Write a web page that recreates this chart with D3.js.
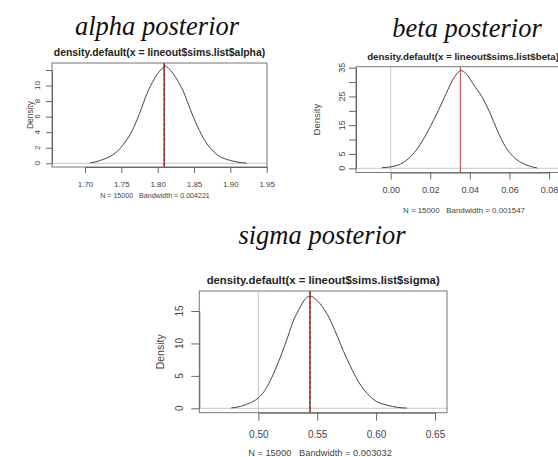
<!DOCTYPE html>
<html><head><meta charset="utf-8">
<script src="https://cdn.jsdelivr.net/npm/d3@7"></script>
<style>html,body{margin:0;padding:0;background:#fff;overflow:hidden}</style>
</head><body>
<svg id="c" width="558" height="457"></svg>
<script>
// ---------- data ----------
const panelNames = ["alpha", "beta", "sigma"];
const bigTitles = ["alpha posterior", "beta posterior", "sigma posterior"];
const mainTitles = ["density.default(x = lineout$sims.list$alpha)", "density.default(x = lineout$sims.list$beta)", "density.default(x = lineout$sims.list$sigma)"];
const subTitles = ["N = 15000   Bandwidth = 0.004221", "N = 15000   Bandwidth = 0.001547", "N = 15000   Bandwidth = 0.003032"];

const alphaX = [1.707,1.715,1.725,1.735,1.745,1.755,1.765,1.775,1.785,1.795,1.805,1.81,1.815,1.825,1.835,1.845,1.855,1.865,1.875,1.885,1.895,1.905,1.915,1.922];
const alphaY = [0.05,0.2,0.5,0.9,1.6,2.7,4.2,6.4,8.9,10.8,12.1,12.5,12.2,11.0,9.3,6.9,4.7,2.9,1.7,0.9,0.5,0.25,0.08,0.02];
const alphaMean = 1.809;
const alphaXTicks = [1.70,1.75,1.80,1.85,1.90,1.95];
const alphaXTickLabels = ["1.70","1.75","1.80","1.85","1.90","1.95"];
const alphaYTicks = [0,2,4,6,8,10,12];
const alphaYTickLabels = ["0","2","4","6","8","10",""];

const betaX = [-0.0045,0,0.004,0.008,0.012,0.016,0.02,0.024,0.028,0.032,0.0355,0.038,0.042,0.046,0.05,0.054,0.058,0.062,0.066,0.07,0.074];
const betaY = [0.2,0.5,1.2,2.8,5.5,9.5,14.5,20,26,31.5,34,33,29,25,19.5,13,7.5,4,2,0.8,0.1];
const betaMean = 0.0352;
const betaXTicks = [0.00,0.02,0.04,0.06,0.08];
const betaXTickLabels = ["0.00","0.02","0.04","0.06","0.08"];
const betaYTicks = [0,5,10,15,20,25,30,35];
const betaYTickLabels = ["0","5","","15","","25","","35"];

const sigmaX = [0.477,0.485,0.49,0.495,0.5,0.505,0.51,0.515,0.52,0.525,0.53,0.535,0.54,0.544,0.55,0.555,0.56,0.565,0.57,0.575,0.58,0.585,0.59,0.595,0.6,0.61,0.618,0.626];
const sigmaY = [0.05,0.3,0.6,1.0,1.6,2.6,4.2,6.2,8.5,11.0,13.6,15.4,16.9,17.3,16.6,15.5,14.0,12.0,9.8,7.7,5.8,4.1,2.8,1.8,1.1,0.45,0.15,0.03];
const sigmaMean = 0.5439;
const sigmaXTicks = [0.50,0.55,0.60,0.65];
const sigmaXTickLabels = ["0.50","0.55","0.60","0.65"];
const sigmaYTicks = [0,5,10,15];
const sigmaYTickLabels = ["0","5","10","15"];

// vertical reference lines (gray)
const betaRefV = 0.0;
const sigmaRefV = 0.50;

// ---------- layout ----------
const svg = d3.select("#c");
const panels = [
  {xs: alphaX, ys: alphaY, mean: alphaMean, xt: alphaXTicks, xl: alphaXTickLabels, yt: alphaYTicks, yl: alphaYTickLabels, refV: null,
   box: {l: 52, r: 267, t: 63, b: 167}, xr: [85, 266.7], yr: [163.3, 70], yTop: 12,
   big: {x: 157, y: 35}, main: {y: 55.5, fs: 10.4}, sub: {x: 155, y: 198, fs: 7.1},
   tickFs: 8, tickLen: 6, xPad: 8.3, yLabX: 37, densX: 30, densFs: 8.4, meanStyle: "dash"},
  {xs: betaX, ys: betaY, mean: betaMean, xt: betaXTicks, xl: betaXTickLabels, yt: betaYTicks, yl: betaYTickLabels, refV: betaRefV,
   box: {l: 356, r: 570, t: 66.7, b: 172.5}, xr: [390.7, 549], yr: [168.3, 67.7], yTop: 35,
   big: {x: 467, y: 37}, main: {y: 60, fs: 9.7}, sub: {x: 464, y: 213, fs: 7.9},
   tickFs: 9, tickLen: 7, xPad: 7.3, yLabX: 341.7, densX: 316.7, densFs: 9.5, meanStyle: "solid"},
  {xs: sigmaX, ys: sigmaY, mean: sigmaMean, xt: sigmaXTicks, xl: sigmaXTickLabels, yt: sigmaYTicks, yl: sigmaYTickLabels, refV: sigmaRefV,
   box: {l: 199.3, r: 447, t: 291, b: 412.7}, xr: [258.3, 435], yr: [408.3, 311], yTop: 15,
   big: {x: 322, y: 243.5}, main: {y: 284, fs: 11.3}, sub: {x: 320, y: 456, fs: 9.3},
   tickFs: 10, tickLen: 8, xPad: 10.5, yLabX: 179.3, densX: 160.7, densFs: 10.5, meanStyle: "dash"}
];

panels.forEach((p, i) => {
  const g = svg.append("g");
  const x = d3.scaleLinear().domain([p.xt[0], p.xt[p.xt.length - 1]]).range(p.xr);
  const y = d3.scaleLinear().domain([0, p.yTop]).range(p.yr);
  const B = p.box;

  // big serif title
  g.append("text").attr("x", p.big.x).attr("y", p.big.y).attr("text-anchor", "middle")
    .style("font-family", "'Liberation Serif', 'Times New Roman', serif").style("font-style", "italic")
    .style("font-size", "26.5px").style("fill", "#111").text(bigTitles[i]);

  // main title
  g.append("text").attr("x", (B.l + B.r) / 2).attr("y", p.main.y).attr("text-anchor", "middle")
    .style("font-family", "'Liberation Sans', Arial, sans-serif").style("font-weight", "bold")
    .style("font-size", p.main.fs + "px").style("fill", "#222").text(mainTitles[i]);

  // zero line (gray)
  g.append("line").attr("x1", B.l).attr("x2", B.r).attr("y1", y(0)).attr("y2", y(0))
    .attr("stroke", "#c8c8c8").attr("stroke-width", 1);
  // gray vertical reference line
  if (p.refV !== null) {
    g.append("line").attr("x1", x(p.refV)).attr("x2", x(p.refV)).attr("y1", B.t).attr("y2", B.b)
      .attr("stroke", "#c8c8c8").attr("stroke-width", 1);
  }

  // density curve
  const line = d3.line().x((d, k) => x(p.xs[k])).y((d, k) => y(p.ys[k])).curve(d3.curveMonotoneX);
  g.append("path").datum(p.xs).attr("d", line).attr("fill", "none")
    .attr("stroke", "#444").attr("stroke-width", 1);

  // mean line
  if (p.meanStyle === "dash") {
    g.append("line").attr("x1", x(p.mean)).attr("x2", x(p.mean)).attr("y1", B.t).attr("y2", B.b)
      .attr("stroke", "#3a2a2a").attr("stroke-width", 1.2);
    g.append("line").attr("x1", x(p.mean)).attr("x2", x(p.mean)).attr("y1", B.t).attr("y2", B.b)
      .attr("stroke", "#d42020").attr("stroke-width", 1.6).attr("stroke-dasharray", "3,2");
  } else {
    g.append("line").attr("x1", x(p.mean)).attr("x2", x(p.mean)).attr("y1", B.t).attr("y2", B.b)
      .attr("stroke", "#d04848").attr("stroke-width", 1.1);
  }

  // box
  g.append("rect").attr("x", B.l).attr("y", B.t).attr("width", B.r - B.l).attr("height", B.b - B.t)
    .attr("fill", "none").attr("stroke", "#777").attr("stroke-width", 1);

  // x axis
  const xa = g.append("g").attr("transform", `translate(0,${B.b})`)
    .call(d3.axisBottom(x).tickValues(p.xt).tickFormat((d, k) => p.xl[k])
      .tickSize(p.tickLen).tickSizeOuter(0).tickPadding(p.xPad));
  xa.select(".domain").attr("stroke", "#666");
  xa.selectAll(".tick line").attr("stroke", "#666");
  xa.selectAll(".tick text").style("font-family", "'Liberation Sans', Arial, sans-serif")
    .style("font-size", p.tickFs + "px").attr("fill", "#444");

  // y axis (ticks) + rotated labels
  const ya = g.append("g").attr("transform", `translate(${B.l},0)`)
    .call(d3.axisLeft(y).tickValues(p.yt).tickFormat("").tickSize(p.tickLen).tickSizeOuter(0));
  ya.select(".domain").attr("stroke", "#666");
  ya.selectAll(".tick line").attr("stroke", "#666");
  g.selectAll(null).data(p.yt).enter().append("text")
    .attr("transform", d => `translate(${p.yLabX},${y(d)}) rotate(-90)`)
    .attr("text-anchor", "middle").attr("dy", "0.35em")
    .style("font-family", "'Liberation Sans', Arial, sans-serif").style("font-size", p.tickFs + "px")
    .attr("fill", "#444").text((d, k) => p.yl[k]);

  // y label
  g.append("text").attr("transform", `translate(${p.densX},${(B.t + B.b) / 2}) rotate(-90)`)
    .attr("text-anchor", "middle").attr("dy", "0.35em")
    .style("font-family", "'Liberation Sans', Arial, sans-serif").style("font-size", p.densFs + "px")
    .attr("fill", "#444").text("Density");

  // sub title
  g.append("text").attr("x", p.sub.x).attr("y", p.sub.y).attr("text-anchor", "middle")
    .style("font-family", "'Liberation Sans', Arial, sans-serif").style("font-size", p.sub.fs + "px")
    .attr("fill", "#444").style("white-space", "pre").attr("xml:space", "preserve").text(subTitles[i]);
});
</script>
</body></html>
